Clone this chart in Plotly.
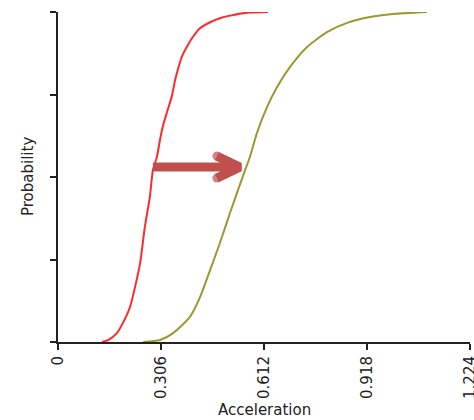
import plotly.graph_objects as go

# Cumulative probability curves (acceleration vs probability)
red_acc = [0.131, 0.149, 0.175, 0.193, 0.214, 0.229, 0.244, 0.258, 0.273, 0.282,
           0.294, 0.303, 0.312, 0.324, 0.339, 0.348, 0.357, 0.368, 0.383, 0.401,
           0.422, 0.452, 0.481, 0.511, 0.562, 0.624]
red_prob = [0.0, 0.006, 0.027, 0.058, 0.106, 0.167, 0.239, 0.348, 0.440, 0.521,
            0.561, 0.612, 0.655, 0.697, 0.748, 0.794, 0.829, 0.865, 0.895, 0.925,
            0.951, 0.969, 0.981, 0.989, 0.998, 1.0]

olive_acc = [0.253, 0.303, 0.342, 0.392, 0.422, 0.452, 0.481, 0.511, 0.535, 0.556,
             0.570, 0.591, 0.621, 0.651, 0.689, 0.740, 0.799, 0.859, 0.927, 0.995,
             1.096]
olive_prob = [0.0, 0.006, 0.027, 0.076, 0.136, 0.218, 0.300, 0.391, 0.461, 0.521,
              0.560, 0.633, 0.712, 0.773, 0.833, 0.894, 0.939, 0.967, 0.985, 0.994,
              1.0]

x_ticks = [0, 0.306, 0.612, 0.918, 1.224]
x_tick_labels = ["0", "0.306", "0.612", "0.918", "1.224"]
y_ticks = [0, 0.25, 0.5, 0.75, 1.0]

# Shift arrow: from the red curve to the olive curve at one probability level
arrow_prob = 0.53
arrow_from = 0.282
arrow_to = 0.573

W, H = 474, 420
M = dict(l=58, r=4, t=12, b=78)
X_RANGE = [0, 1.2242]
Y_RANGE = [0, 1.0]
px_x = (W - M["l"] - M["r"]) / (X_RANGE[1] - X_RANGE[0])
px_y = (H - M["t"] - M["b"]) / (Y_RANGE[1] - Y_RANGE[0])


def off(x, y, dx, dy):
    """Offset a data point by (dx, dy) screen pixels (dy downward)."""
    return x + dx / px_x, y - dy / px_y


ARROW_COLOR = "#c0504d"
AW = 9  # arrow stroke width, px

fig = go.Figure()

fig.add_trace(go.Scatter(x=red_acc, y=red_prob, mode="lines",
                         line=dict(color="#ff2a2a", width=2, shape="spline",
                                   smoothing=0.6),
                         hoverinfo="skip"))
fig.add_trace(go.Scatter(x=olive_acc, y=olive_prob, mode="lines",
                         line=dict(color="#999933", width=2, shape="spline",
                                   smoothing=0.6),
                         hoverinfo="skip"))

# arrow shaft
sx0, sy0 = arrow_from, arrow_prob
sx1, sy1 = off(arrow_to, arrow_prob, -14, 0)
fig.add_trace(go.Scatter(x=[sx0, sx1], y=[sy0, sy1], mode="lines",
                         line=dict(color=ARROW_COLOR, width=AW), hoverinfo="skip"))

# arrow head (open chevron with rounded arm ends)
apex = off(arrow_to, arrow_prob, -11, 0)
arm_top = off(arrow_to, arrow_prob, -34, -11)
arm_bot = off(arrow_to, arrow_prob, -34, 11)
fig.add_trace(go.Scatter(x=[arm_top[0], apex[0], arm_bot[0]],
                         y=[arm_top[1], apex[1], arm_bot[1]],
                         mode="lines+markers",
                         line=dict(color=ARROW_COLOR, width=AW),
                         marker=dict(size=[AW, 0, AW], color=ARROW_COLOR,
                                     line=dict(width=0)),
                         hoverinfo="skip"))

axis_common = dict(showline=True, linecolor="#222222", linewidth=2,
                   ticks="outside", ticklen=6, tickwidth=2, tickcolor="#222222",
                   showgrid=False, zeroline=False, fixedrange=True,
                   automargin=False)

fig.update_xaxes(range=X_RANGE, tickvals=x_ticks, ticktext=x_tick_labels,
                 tickangle=-90, ticklabeloverflow="allow",
                 tickfont=dict(family="DejaVu Sans", size=15, color="#222222"),
                 **axis_common)
fig.update_yaxes(range=Y_RANGE, tickvals=y_ticks, showticklabels=False,
                 **axis_common)

fig.add_annotation(text="Probability", xref="paper", yref="paper", x=0, y=0.5,
                   xanchor="center", yanchor="middle", xshift=-30, textangle=-90,
                   showarrow=False,
                   font=dict(family="DejaVu Sans", size=15, color="#222222"))
fig.add_annotation(text="Acceleration", xref="paper", yref="paper", x=0.5, y=0,
                   xanchor="center", yanchor="top", yshift=-57,
                   showarrow=False,
                   font=dict(family="DejaVu Sans", size=15, color="#222222"))

fig.update_layout(width=W, height=H, margin=M, showlegend=False,
                  plot_bgcolor="white", paper_bgcolor="white")

fig.write_html("out.html")
